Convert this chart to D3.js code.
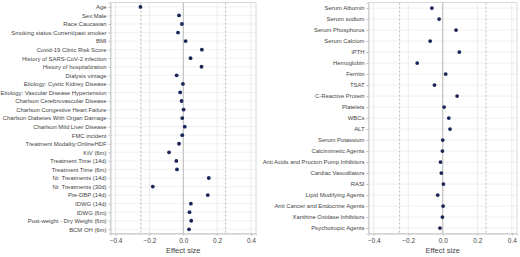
<!DOCTYPE html>
<html>
<head>
<meta charset="utf-8">
<script src="https://cdn.jsdelivr.net/npm/d3@7"></script>
<style>
  body { margin: 0; background: #fff; }
  text { font-family: "Liberation Sans", Arial, sans-serif; fill: #444; }
</style>
</head>
<body>
<svg id="chart" width="520" height="257"></svg>
<script>
// left panel: patient / treatment variables
const leftLabels = [
  'Age', 'Sex:Male', 'Race:Caucasian', 'Smoking status:Current/past smoker', 'BMI',
  'Covid-19 Clinic Risk Score', 'History of SARS-CoV-2 infection', 'History of hospitalization',
  'Dialysis vintage', 'Etiology: Cystic Kidney Disease', 'Etiology: Vascular Disease Hypertension',
  'Charlson Cerebrovascular Disease', 'Charlson Congestive Heart Failure',
  'Charlson Diabetes With Organ Damage', 'Charlson Mild Liver Disease', 'FMC incident',
  'Treatment Modality:OnlineHDF', 'KtV (6m)', 'Treatment Time (14d)', 'Treatment Time (6m)',
  'Nr. Treatments (14d)', 'Nr. Treatments (30d)', 'Pre-DBP (14d)', 'IDWG (14d)', 'IDWG (6m)',
  'Post-weight - Dry Weight (6m)', 'BCM OH (6m)'
];
const leftValues = [
  -0.253, -0.025, -0.008, -0.031, 0.014,
  0.110, 0.043, 0.108,
  -0.039, -0.002, -0.018,
  -0.010, 0.002,
  -0.006, 0.009, -0.006,
  -0.025, -0.084, -0.041, -0.037,
  0.151, -0.180, 0.145, 0.045, 0.037,
  0.047, 0.034
];

// right panel: labs and medications
const rightLabels = [
  'Serum Albumin', 'Serum sodium', 'Serum Phosphorus', 'Serum Calcium', 'iPTH', 'Hemoglobin',
  'Ferritin', 'TSAT', 'C-Reactive Protein', 'Platelets', 'WBCs', 'ALT', 'Serum Potassium',
  'Calcimimetic Agents', 'Anti Acids and Procton Pump Inhibitors', 'Cardiac Vasodilators', 'RASI',
  'Lipid Modifying Agents', 'Anti Cancer and Endocrine Agents', 'Xanthine Oxidase Inhibitors',
  'Psychotropic Agents'
];
const rightValues = [
  -0.063, -0.021, 0.077, -0.073, 0.096, -0.148,
  0.017, -0.048, 0.083, 0.008, 0.035, 0.042, 0.000,
  -0.002, -0.013, -0.008, 0.004,
  -0.029, 0.002, -0.002,
  -0.016
];

const xTicks = [-0.4, -0.2, 0.0, 0.2, 0.4];
const refLines = [-0.25, 0.25];

const svg = d3.select('#chart');

function drawPanel(labels, values, left, right) {
  const top = 2.6, bottom = 233.6;
  const g = svg.append('g');

  const x = d3.scaleLinear().domain([-0.43, 0.43]).range([left, right]);
  const y = d3.scalePoint().domain(labels).range([top, bottom]).padding(0.5);

  // row grid lines
  g.selectAll('.hgrid')
    .data(labels)
    .join('line')
      .attr('x1', left).attr('x2', right)
      .attr('y1', d => y(d)).attr('y2', d => y(d))
      .attr('stroke', '#eeeeee').attr('stroke-width', 0.8);

  // vertical grid lines
  g.selectAll('.vgrid')
    .data(xTicks.filter(t => t !== 0))
    .join('line')
      .attr('x1', d => x(d)).attr('x2', d => x(d))
      .attr('y1', top).attr('y2', bottom)
      .attr('stroke', '#e6e6e6').attr('stroke-width', 0.8);

  // reference lines
  g.selectAll('.ref')
    .data(refLines)
    .join('line')
      .attr('x1', d => x(d)).attr('x2', d => x(d))
      .attr('y1', top).attr('y2', bottom)
      .attr('stroke', '#aaaaaa').attr('stroke-width', 0.8)
      .attr('stroke-dasharray', '2,2');

  // zero line
  g.append('line')
    .attr('x1', x(0)).attr('x2', x(0))
    .attr('y1', top).attr('y2', bottom)
    .attr('stroke', '#b5b5b5').attr('stroke-width', 1);

  // frame
  g.append('rect')
    .attr('x', left).attr('y', top)
    .attr('width', right - left).attr('height', bottom - top)
    .attr('fill', 'none').attr('stroke', '#d0d0d0').attr('stroke-width', 0.8);

  // axes
  const yAxis = d3.axisLeft(y).tickSize(2).tickPadding(2);
  const yAxisG = g.append('g')
    .attr('transform', `translate(${left},0)`)
    .call(yAxis);
  yAxisG.select('.domain').attr('stroke', '#cccccc');
  yAxisG.selectAll('.tick line').attr('stroke', '#bbbbbb');
  yAxisG.selectAll('.tick text').style('font-size', '5.9px').attr('fill', '#444');

  const xAxis = d3.axisBottom(x).tickValues(xTicks).tickSize(2).tickPadding(3)
    .tickFormat(d3.format('.1f'));
  const xAxisG = g.append('g')
    .attr('transform', `translate(0,${bottom})`)
    .call(xAxis);
  xAxisG.select('.domain').attr('stroke', '#cccccc');
  xAxisG.selectAll('.tick line').attr('stroke', '#bbbbbb');
  xAxisG.selectAll('.tick text').style('font-size', '6.5px').attr('fill', '#444');

  g.append('text')
    .attr('x', x(0)).attr('y', 253)
    .attr('text-anchor', 'middle')
    .style('font-size', '7.5px')
    .text('Effect size');

  // points
  g.selectAll('.dot')
    .data(labels.map((l, i) => ({label: l, value: values[i]})))
    .join('circle')
      .attr('cx', d => x(d.value))
      .attr('cy', d => y(d.label))
      .attr('r', 1.9)
      .attr('fill', '#1b2456');
}

drawPanel(leftLabels, leftValues, 110.5, 256);
drawPanel(rightLabels, rightValues, 368.5, 517);
</script>
</body>
</html>
